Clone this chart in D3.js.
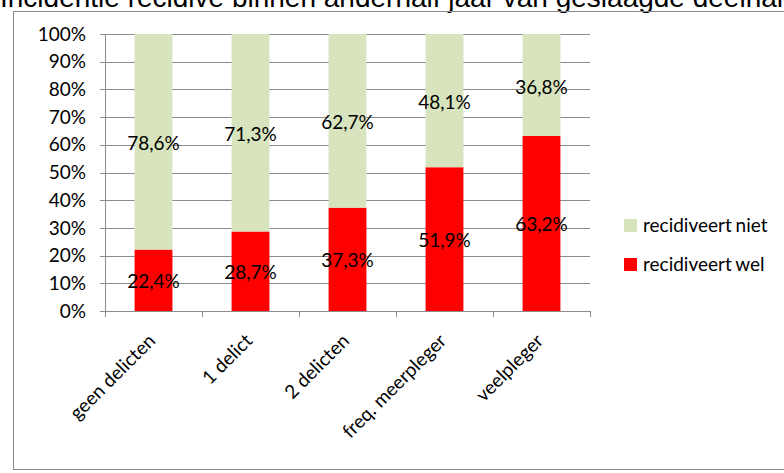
<!DOCTYPE html>
<html>
<head>
<meta charset="utf-8">
<script src="https://cdn.jsdelivr.net/npm/d3@7"></script>
<style>
  body { margin: 0; background: #fff; }
  text { font-family: Lato, "Open Sans", sans-serif; }
</style>
</head>
<body>
<div id="chart"></div>
<script>
// Data
const categories = ["geen delicten", "1 delict", "2 delicten", "freq. meerpleger", "veelpleger"];
const nietValues = [78.6, 71.3, 62.7, 48.1, 36.8];
const welValues = [22.4, 28.7, 37.3, 51.9, 63.2];
const seriesNames = ["recidiveert niet", "recidiveert wel"];
const yTicks = [0, 10, 20, 30, 40, 50, 60, 70, 80, 90, 100];

const W = 784, H = 473;
const fs = "19px";
const svg = d3.select("#chart").append("svg").attr("width", W).attr("height", H);

// cut-off title and frame
svg.append("text").attr("x", 0).attr("y", 7).style("font-family", "Arial, 'Liberation Sans', sans-serif")
  .style("font-size", "28px").attr("fill", "#000")
  .text("Incidentie recidive binnen anderhalf jaar van geslaagde deelname");
svg.append("rect").attr("x", 13.5).attr("y", 11.5).attr("width", 800).attr("height", 458)
  .attr("fill", "none").attr("stroke", "#8a8a8a").attr("stroke-width", 1);

const plot = { left: 105, right: 590, top: 34, bottom: 311 };

const x = d3.scaleBand().domain(categories).range([plot.left, plot.right]).paddingInner(0.61).paddingOuter(0.305);
const y = d3.scaleLinear().domain([0, 100]).range([plot.bottom, plot.top]);

// gridlines
svg.append("g").selectAll("line").data(yTicks).join("line")
  .attr("x1", plot.left - 5).attr("x2", plot.right)
  .attr("y1", d => Math.round(y(d)) + 0.5).attr("y2", d => Math.round(y(d)) + 0.5)
  .attr("stroke", "#8c8c8c").attr("stroke-width", 1);

// y labels
svg.append("g").selectAll("text").data(yTicks).join("text")
  .attr("x", plot.left - 19).attr("y", d => y(d)).attr("dy", "0.35em").attr("text-anchor", "end")
  .style("font-size", fs).attr("fill", "#000").text(d => d + "%");

// stacked bars (normalized to 100%)
const rows = categories.map((c, i) => {
  const tot = nietValues[i] + welValues[i];
  return { cat: c, wel: welValues[i], niet: nietValues[i], welP: welValues[i] / tot * 100 };
});

const bw = x.bandwidth();
svg.append("g").selectAll("rect").data(rows).join("rect")
  .attr("x", d => x(d.cat)).attr("width", bw)
  .attr("y", d => y(d.welP)).attr("height", d => y(0) - y(d.welP)).attr("fill", "#ff0000");
svg.append("g").selectAll("rect").data(rows).join("rect")
  .attr("x", d => x(d.cat)).attr("width", bw)
  .attr("y", y(100)).attr("height", d => y(d.welP) - y(100)).attr("fill", "#d7e4bd");

const fmt = v => v.toFixed(1).replace(".", ",") + "%";
svg.append("g").selectAll("text").data(rows).join("text")
  .attr("x", d => x(d.cat) + bw / 2).attr("y", d => y(d.welP / 2) + 1).attr("dy", "0.35em")
  .attr("text-anchor", "middle").style("font-size", fs).text(d => fmt(d.wel));
svg.append("g").selectAll("text").data(rows).join("text")
  .attr("x", d => x(d.cat) + bw / 2).attr("y", d => y((d.welP + 100) / 2) + 2).attr("dy", "0.35em")
  .attr("text-anchor", "middle").style("font-size", fs).text(d => fmt(d.niet));

// axes lines
svg.append("line").attr("x1", plot.left + 0.5).attr("x2", plot.left + 0.5).attr("y1", plot.top).attr("y2", plot.bottom + 5)
  .attr("stroke", "#8c8c8c");
svg.append("line").attr("x1", plot.left).attr("x2", plot.right).attr("y1", plot.bottom + 0.5).attr("y2", plot.bottom + 0.5)
  .attr("stroke", "#8c8c8c");
const step = x.step();
svg.append("g").selectAll("line").data(d3.range(categories.length + 1)).join("line")
  .attr("x1", i => Math.round(plot.left + i * step) + 0.5).attr("x2", i => Math.round(plot.left + i * step) + 0.5)
  .attr("y1", plot.bottom).attr("y2", plot.bottom + 6).attr("stroke", "#8c8c8c");

// x labels rotated
svg.append("g").selectAll("text").data(categories).join("text")
  .attr("transform", d => `translate(${x(d) + bw / 2 + 3},${plot.bottom + 31}) rotate(-45)`)
  .attr("text-anchor", "end").style("font-size", fs).text(d => d);

// legend
const legend = svg.append("g").attr("transform", "translate(624,219)");
const legendColors = ["#d7e4bd", "#ff0000"];
legend.selectAll("rect").data(seriesNames).join("rect")
  .attr("x", 0).attr("y", (d, i) => i * 39).attr("width", 13).attr("height", 13)
  .attr("fill", (d, i) => legendColors[i]);
legend.selectAll("text").data(seriesNames).join("text")
  .attr("x", 19).attr("y", (d, i) => i * 39 + 6.5).attr("dy", "0.35em")
  .style("font-size", fs).style("word-spacing", "-1px").text(d => d);
</script>
</body>
</html>
